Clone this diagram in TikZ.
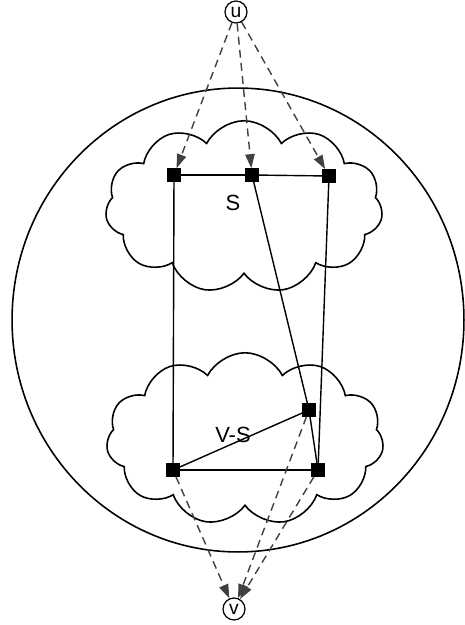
\documentclass[tikz,border=0pt]{standalone}
\usepackage{fontspec}
\setmainfont{Liberation Sans}
\usetikzlibrary{arrows.meta, shapes.geometric, shapes.symbols}

\begin{document}
\begin{tikzpicture}[x=0.02cm, y=-0.02cm,
    vtx/.style={draw, fill=black, minimum size=0.26cm, inner sep=0pt},
    puff/.style={draw, line width=0.9pt, cloud, cloud puffs=11, cloud puff arc=125,
                 cloud ignores aspect, minimum width=5.55cm, minimum height=3.45cm},
    dep/.style={->, dashed, dash pattern=on 4.5pt off 3pt, line width=0.8pt, black!75},
    term/.style={draw, circle, line width=0.7pt, minimum size=0.44cm, inner sep=0pt,
                 font=\fontsize{11}{11}\selectfont},
    >={Triangle[length=2.8mm, width=1.9mm]}]
  \useasboundingbox (0,0) rectangle (465,625);

  % Outer region
  \node[draw, ellipse, line width=0.9pt, minimum width=9.04cm, minimum height=9.28cm]
    (world) at (238, 320) {};

  % Clouds
  \node[puff] (upcloud) at (244, 207) {};
  \node[puff] (lowcloud) at (245, 439) {};

  % Terminals
  \node[term] (u) at (236, 12) {u};
  \node[term] (v) at (234, 609) {v};

  % Upper vertices
  \node[vtx] (a) at (174, 175) {};
  \node[vtx] (b) at (252, 175) {};
  \node[vtx] (c) at (329, 176) {};

  % Lower vertices
  \node[vtx] (d) at (173, 470) {};
  \node[vtx] (e) at (318, 470) {};
  \node[vtx] (f) at (309, 410) {};

  % Edges
  \draw[line width=0.8pt] (a) -- (b);
  \draw[line width=0.8pt] (b) -- (c);
  \draw[line width=0.8pt] (a) -- (d);
  \draw[line width=0.8pt] (c) -- (e);
  \draw[line width=0.8pt] (b) -- (f);
  \draw[line width=0.8pt] (f) -- (e);
  \draw[line width=0.8pt] (d) -- (f);
  \draw[line width=0.8pt] (d) -- (e);

  % Labels
  \node[font=\fontsize{12.5}{13}\selectfont] (slab) at (233, 203) {S};
  \node[font=\fontsize{12.5}{13}\selectfont] (vslab) at (233, 435) {V-S};

  % Dashed arrows
  \draw[dep] (u) -- (a);
  \draw[dep] (u) -- (b);
  \draw[dep] (u) -- (c);
  \draw[dep] (d) -- (v);
  \draw[dep] (f) -- (v);
  \draw[dep] (e) -- (v);
\end{tikzpicture}
\end{document}
